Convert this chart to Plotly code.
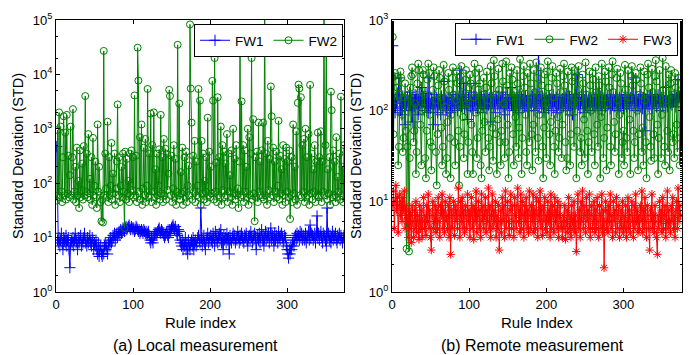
import plotly.graph_objects as go

# ---------------- data ----------------
local_fw1 = [
    470, 9, 8, 10, 7, 9, 12, 8, 6, 10, 9, 8, 11, 7, 9, 10, 6, 2.8, 8, 9,
    8, 10, 7, 9, 12, 8, 9, 6, 10, 8, 9, 11, 7, 9, 8, 10, 12, 8, 9, 7,
    10, 8, 9, 11, 8, 7, 10, 9, 6, 8, 7, 9, 6, 5, 8, 4.5, 6, 7, 5, 4.5,
    6, 5, 7, 8, 6, 7, 5, 8, 9, 7, 10, 8, 9, 11, 10, 12, 9, 11, 12, 10,
    12, 13, 11, 14, 12, 13, 15, 14, 13, 15, 16, 14, 15, 16, 17, 15, 14, 16, 15, 14,
    15, 13, 14, 16, 15, 14, 13, 14, 12, 13, 14, 13, 12, 14, 13, 12, 13, 11, 12, 13,
    11, 9, 8, 10, 9, 8, 10, 11, 12, 11, 12, 13, 14, 15, 13, 12, 14, 13, 12, 11,
    10, 11, 12, 13, 11, 10, 12, 14, 13, 15, 16, 17, 15, 14, 16, 13, 12, 11, 14, 13,
    9, 8, 7, 9, 6, 8, 7, 10, 6, 8, 5, 9, 7, 6, 8, 9, 7, 10, 6, 8,
    9, 7, 8, 10, 11, 9, 8, 35, 10, 7, 9, 11, 8, 6, 10, 9, 12, 8, 10, 9,
    11, 9, 8, 12, 10, 7, 13, 9, 11, 8, 10, 12, 9, 14, 8, 10, 6, 11, 9, 10,
    8, 12, 9, 10, 5, 11, 9, 8, 10, 12, 9, 11, 8, 10, 9, 13, 10, 8, 11, 9,
    12, 10, 9, 8, 11, 10, 12, 9, 7, 10, 11, 9, 13, 10, 8, 11, 9, 12, 10, 6,
    10, 11, 9, 12, 8, 10, 14, 9, 11, 7, 10, 13, 9, 11, 10, 12, 8, 10, 15, 9,
    11, 10, 7, 12, 9, 11, 10, 8, 13, 10, 9, 11, 12, 10, 8, 9, 11, 10, 7, 6,
    5, 4.2, 6, 5, 7, 6, 8, 9, 7, 10, 11, 9, 12, 10, 11, 9, 13, 10, 12, 9,
    11, 10, 9, 12, 8, 11, 10, 13, 9, 17, 10, 12, 11, 9, 10, 12, 8, 11, 25, 10,
    12, 9, 11, 13, 10, 8, 12, 10, 11, 9, 7, 35, 10, 12, 9, 11, 8, 10, 13, 9,
    11, 10, 12, 9, 8, 11, 10, 12, 9, 11, 10, 8, 10, 11,
]
local_fw2 = [
    48, 950, 60, 2000, 55, 1100, 70, 45, 300, 1700, 60, 850, 50, 1800, 65, 320, 55, 140, 1100, 60,
    300, 2300, 50, 70, 200, 45, 450, 60, 110, 35, 400, 55, 75, 230, 50, 480, 60, 4000, 70, 350,
    55, 800, 65, 120, 50, 300, 40, 680, 60, 90, 250, 55, 35, 1200, 70, 200, 60, 45, 20, 50,
    19, 27000, 60, 350, 80, 55, 1350, 45, 300, 60, 90, 550, 50, 150, 65, 350, 40, 80, 250, 2800,
    60, 300, 45, 90, 200, 55, 350, 70, 15, 380, 50, 280, 65, 110, 45, 350, 60, 400, 75, 300,
    55, 4100, 60, 320, 45, 31000, 7700, 70, 700, 50, 1200, 40, 80, 450, 60, 650, 45, 90, 5400, 55,
    350, 60, 1900, 45, 500, 70, 2000, 55, 180, 40, 350, 60, 90, 420, 50, 1800, 65, 300, 45, 650,
    60, 430, 50, 350, 75, 150, 5200, 4000, 60, 320, 45, 80, 500, 55, 280, 40, 70, 35000, 60, 2900,
    50, 160, 65, 450, 40, 70, 300, 55, 380, 45, 90, 210, 60, 83000, 5500, 1300, 50, 320, 70, 600,
    45, 250, 60, 90, 5400, 55, 3300, 40, 600, 65, 350, 50, 110, 70, 300, 45, 1600, 60, 380, 55,
    200, 65, 7600, 3300, 50, 20000, 70, 240, 45, 3800, 60, 300, 55, 1100, 40, 500, 75, 380, 55, 230,
    60, 800, 45, 350, 70, 140, 55, 400, 40, 1000, 65, 280, 50, 500, 60, 80, 35, 250, 27000, 55,
    3200, 60, 500, 45, 400, 70, 200, 55, 1000, 40, 700, 60, 350, 20000, 50, 1500, 65, 20, 300, 55,
    380, 45, 1300, 70, 250, 60, 400, 55, 1300, 50, 200000, 60, 350, 40, 600, 75, 280, 55, 6000, 1700,
    60, 450, 45, 250, 70, 380, 55, 90, 1400, 50, 320, 65, 180, 40, 500, 60, 280, 45, 450, 70,
    250, 55, 400, 22, 60, 300, 45, 1200, 65, 200, 50, 900, 40, 3000, 6500, 5500, 60, 3800, 55, 500,
    70, 650, 45, 1000, 55, 300, 60, 800, 40, 6400, 65, 350, 50, 180, 70, 500, 45, 250, 60, 850,
    55, 300, 60, 900, 45, 250, 70, 200000, 60, 500, 33000, 50, 180, 65, 300, 40, 4800, 2200, 55, 400,
    60, 250, 45, 700, 55, 130, 70, 350, 50, 3900, 60, 200, 45, 500,
]
remote_fw1 = [
    520, 110, 130, 95, 140, 120, 105, 150, 230, 125, 100, 135, 90, 145, 120, 110, 70, 130, 115, 140,
    125, 100, 160, 115, 130, 75, 140, 120, 110, 150, 105, 135, 125, 90, 145, 115, 130, 180, 110, 125,
    140, 100, 120, 155, 110, 130, 95, 230, 120, 105, 135, 115, 125, 70, 150, 120, 110, 140, 95, 130,
    115, 125, 90, 145, 130, 105, 120, 210, 110, 135, 100, 125, 115, 140, 120, 95, 130, 110, 150, 125,
    105, 140, 120, 130, 100, 135, 115, 280, 125, 110, 145, 120, 200, 105, 130, 150, 115, 80, 140, 125,
    130, 110, 160, 120, 100, 145, 125, 200, 115, 135, 105, 130, 120, 150, 95, 140, 115, 125, 110, 135,
    120, 145, 105, 130, 115, 140, 125, 75, 150, 120, 135, 110, 125, 95, 140, 130, 115, 145, 120, 105,
    135, 120, 160, 110, 130, 90, 140, 125, 115, 150, 120, 105, 135, 180, 115, 130, 100, 145, 125, 110,
    140, 120, 130, 95, 150, 115, 125, 140, 105, 135, 120, 110, 145, 130, 115, 145, 100, 125, 135, 120,
    110, 145, 125, 100, 135, 120, 150, 115, 130, 530, 105, 140, 125, 110, 145, 120, 95, 135, 125, 140,
    115, 130, 105, 145, 120, 135, 100, 125, 150, 110, 130, 120, 140, 95, 125, 115, 145, 130, 105, 120,
    135, 110, 140, 125, 100, 150, 120, 130, 115, 145, 105, 125, 140, 90, 135, 120, 110, 150, 125, 250,
    130, 115, 140, 105, 125, 150, 120, 135, 95, 130, 115, 145, 120, 110, 135, 125, 100, 140, 130, 115,
    125, 140, 110, 135, 120, 150, 105, 130, 125, 145, 115, 100, 135, 120, 140, 125, 110, 130, 145, 115,
    120, 135, 105, 150, 125, 115, 140, 130, 110, 145, 120, 135, 100, 125, 140, 115, 130, 150, 120, 105,
    135, 125, 145, 110, 130, 120, 150, 105, 140, 125, 115, 135, 230, 120, 130, 100, 145, 125, 110, 135,
    120, 150, 115, 130, 105, 140, 125, 60, 135, 120, 145, 110, 130, 125, 150, 115, 140, 105, 130, 120,
    145, 125, 110, 135, 150, 120, 130, 100, 140, 125, 115, 145, 130, 120, 180, 135, 110, 125, 145, 130,
    120, 140, 115, 135, 125, 150, 130, 110, 140, 125, 220, 135, 145, 130,
]
remote_fw2 = [
    650, 55, 240, 260, 210, 130, 180, 25, 40, 150, 270, 230, 90, 35, 50, 140, 200, 60, 3.0, 40,
    150, 2.8, 30, 180, 240, 300, 250, 45, 60, 120, 20, 35, 200, 330, 280, 160, 70, 25, 100, 280,
    250, 150, 30, 18, 60, 220, 330, 260, 90, 45, 22, 40, 170, 300, 240, 130, 35, 15, 55, 190,
    280, 230, 140, 65, 25, 40, 320, 210, 110, 20, 30, 75, 260, 170, 50, 18, 90, 230, 300, 150,
    45, 25, 130, 270, 200, 60, 15, 40, 240, 310, 160, 85, 30, 55, 220, 280, 120, 20, 45, 180,
    250, 200, 70, 35, 20, 140, 330, 260, 95, 30, 50, 170, 290, 200, 25, 18, 60, 150, 230, 75,
    35, 180, 270, 130, 50, 22, 40, 310, 200, 65, 28, 360, 240, 150, 55, 20, 80, 290, 170, 45,
    25, 60, 330, 210, 120, 30, 45, 350, 190, 70, 18, 35, 260, 140, 300, 220, 55, 25, 160, 85,
    40, 280, 200, 30, 65, 370, 150, 20, 50, 240, 310, 180, 90, 35, 25, 260, 130, 45, 330, 200,
    55, 22, 70, 280, 160, 35, 340, 230, 50, 28, 90, 150, 300, 190, 40, 18, 65, 250, 120, 30,
    270, 350, 180, 55, 25, 75, 230, 310, 140, 40, 20, 60, 260, 200, 85, 35, 50, 290, 160, 30,
    70, 240, 330, 190, 45, 22, 30, 270, 150, 95, 25, 55, 300, 210, 120, 40, 280, 230, 18, 60,
    170, 310, 140, 35, 50, 25, 250, 200, 80, 30, 340, 150, 60, 20, 45, 270, 190, 100, 35, 260,
    220, 55, 25, 300, 160, 70, 40, 240, 190, 18, 85, 330, 140, 30, 50, 270, 210, 22, 65, 120,
    300, 180, 40, 25, 250, 350, 160, 75, 35, 55, 230, 290, 130, 20, 90, 260, 200, 30, 45, 60,
    25, 320, 170, 50, 35, 280, 140, 80, 20, 240, 310, 190, 60, 30, 45, 260, 220, 100, 22, 55,
    150, 300, 200, 35, 65, 25, 270, 130, 45, 18, 250, 330, 180, 85, 40, 28, 290, 160, 55, 30,
    240, 360, 210, 70, 20, 50, 280, 140, 30, 90, 380, 170, 40, 25, 310, 130, 60, 35, 250, 22,
    200, 280, 150, 45, 55, 30, 260, 180, 70, 35, 230, 120, 25, 50,
]
remote_fw3 = [
    9, 13, 5, 10, 15, 8, 11, 4.5, 9, 12, 7, 10, 6, 11, 8, 13, 5, 9, 7, 6,
    4, 8, 5, 7, 3.5, 9, 6, 4, 8, 5, 10, 4.5, 7, 6, 3.8, 9, 5, 8, 4, 6,
    11, 5, 7, 4.2, 9, 6, 12, 5, 8, 4, 2.9, 7, 10, 5, 6, 9, 4.5, 8, 5, 11,
    6, 4, 9, 7, 12, 5, 8, 4.5, 10, 6, 7, 5, 9, 4, 11, 2.6, 8, 5, 7, 10,
    4.2, 9, 6, 8, 5, 14, 7, 4, 10, 6, 11, 5, 8, 4.5, 9, 7, 5, 12, 6, 8,
    4, 7, 11, 5, 9, 3.8, 8, 6, 13, 4.5, 7, 10, 5, 8, 4, 12, 6, 9, 5, 7,
    11, 4.5, 8, 6, 14, 5, 9, 4, 7, 12, 5, 8, 6, 10, 4, 7, 5, 9, 2.9, 6,
    8, 4.5, 11, 6, 9, 4, 13, 5, 7, 10, 6, 4.2, 8, 12, 5, 9, 6, 4, 11, 7,
    5, 9, 14, 6, 8, 4.5, 12, 5, 10, 7, 4, 9, 6, 11, 5, 8, 4.5, 13, 7, 5,
    9, 6, 12, 4.5, 8, 5, 11, 7, 4, 10, 6, 13, 5, 8, 4.2, 9, 6, 11, 5, 7,
    4.5, 10, 6, 8, 4, 12, 5, 9, 7, 4.5, 11, 6, 8, 5, 10, 4, 7, 9, 5, 6,
    4, 7, 5, 9, 3.8, 6, 8, 4.5, 11, 5, 7, 4, 9, 6, 5, 10, 4.5, 7, 2.8, 6,
    12, 5, 8, 4, 10, 6, 13, 5, 9, 7, 4.5, 11, 6, 8, 5, 12, 4, 7, 9, 5,
    6, 10, 4.5, 8, 5, 11, 6, 4, 9, 7, 5, 12, 4.5, 8, 1.85, 6, 10, 5, 8, 4.5,
    9, 6, 12, 5, 7, 4, 10, 6, 8, 4.5, 11, 5, 7, 9, 4, 6, 8, 5, 10, 4.5,
    7, 5, 9, 4, 6, 11, 5, 8, 4.5, 7, 10, 6, 4, 9, 5, 12, 6, 8, 4.5, 7,
    5, 9, 6, 13, 4.5, 8, 5, 11, 6, 4, 9, 7, 5, 2.9, 8, 6, 12, 5, 7, 4.5,
    9, 6, 4, 2.6, 7, 5, 10, 6, 8, 4.5, 11, 5, 7, 9, 4, 6, 13, 5, 8, 6,
    4.5, 9, 6, 11, 5, 7, 4, 8, 10, 5, 14, 6, 9, 7,
]
rule_index = list(range(1, len(local_fw1) + 1))

series_names_local = ["FW1", "FW2"]
series_names_remote = ["FW1", "FW2", "FW3"]
y_tick_vals_local = [1, 10, 100, 1000, 10000, 100000]
y_tick_text_local = ["10<sup>0</sup>", "10<sup>1</sup>", "10<sup>2</sup>",
                     "10<sup>3</sup>", "10<sup>4</sup>", "10<sup>5</sup>"]
y_tick_vals_remote = [1, 10, 100, 1000]
y_tick_text_remote = ["10<sup>0</sup>", "10<sup>1</sup>", "10<sup>2</sup>", "10<sup>3</sup>"]
x_tick_vals = [0, 100, 200, 300]

# ---------------- figure ----------------
W, H = 691, 355
BLUE, GREEN, RED = "#0000FF", "#008000", "#FF0000"
FONT = "Liberation Sans, Arial, sans-serif"

fig = go.Figure()

def add(x, y, name, color, symbol, size, xa, ya, legend):
    fig.add_trace(go.Scatter(
        x=x, y=y, name=name, mode="lines+markers", xaxis=xa, yaxis=ya, legend=legend,
        line=dict(color=color, width=1),
        marker=dict(symbol=symbol, size=size, color=color, line=dict(color=color, width=1)),
    ))

add(rule_index, local_fw1, series_names_local[0], BLUE, "cross-thin-open", 8, "x", "y", "legend")
add(rule_index, local_fw2, series_names_local[1], GREEN, "circle-open", 7, "x", "y", "legend")
add(rule_index, remote_fw1, series_names_remote[0], BLUE, "cross-thin-open", 8, "x2", "y2", "legend2")
add(rule_index, remote_fw2, series_names_remote[1], GREEN, "circle-open", 7, "x2", "y2", "legend2")
add(rule_index, remote_fw3, series_names_remote[2], RED, "asterisk-open", 7, "x2", "y2", "legend2")

x1d = [56 / W, 344 / W]
x2d = [392 / W, 682 / W]
yd = [1 - 292 / H, 1 - 20 / H]

axis_common = dict(showline=True, linecolor="black", linewidth=1, mirror="ticks",
                   ticks="inside", ticklen=4, tickcolor="black", showgrid=False,
                   zeroline=False, automargin=False,
                   tickfont=dict(family=FONT, size=13, color="black"))

fig.update_layout(
    width=W, height=H, margin=dict(l=0, r=0, t=0, b=0, autoexpand=False),
    paper_bgcolor="white", plot_bgcolor="white",
    font=dict(family=FONT, color="black"),
    xaxis=dict(domain=x1d, range=[0, 374], anchor="y", tickvals=x_tick_vals, **axis_common),
    yaxis=dict(domain=yd, type="log", range=[0, 5], anchor="x",
               tickvals=y_tick_vals_local, ticktext=y_tick_text_local,
               minor=dict(ticks="inside", ticklen=2, tickcolor="black"), **axis_common),
    xaxis2=dict(domain=x2d, range=[0, 376], anchor="y2", tickvals=x_tick_vals, **axis_common),
    yaxis2=dict(domain=yd, type="log", range=[0, 3], anchor="x2",
                tickvals=y_tick_vals_remote, ticktext=y_tick_text_remote,
                minor=dict(ticks="inside", ticklen=2, tickcolor="black"), **axis_common),
    legend=dict(orientation="h", x=343 / W, xanchor="right", y=1 - 24 / H, yanchor="top",
                bgcolor="white", bordercolor="black", borderwidth=1,
                font=dict(family=FONT, size=13.5), tracegroupgap=0, itemwidth=30),
    legend2=dict(orientation="h", x=678 / W, xanchor="right", y=1 - 23 / H, yanchor="top",
                 bgcolor="white", bordercolor="black", borderwidth=1,
                 font=dict(family=FONT, size=13.5), tracegroupgap=0, itemwidth=30),
    showlegend=True,
)

def text(x, y, s, size, angle=0):
    fig.add_annotation(x=x / W, y=1 - y / H, xref="paper", yref="paper", text=s,
                       showarrow=False, textangle=angle, xanchor="center", yanchor="middle",
                       font=dict(family=FONT, size=size, color="black"))

text(200, 322, "Rule index", 15)
text(537, 322, "Rule Index", 15)
text(195, 345, "(a) Local measurement", 16)
text(532, 345, "(b) Remote measurement", 16)
text(18, 156, "Standard Deviation (STD)", 14.5, -90)
text(356, 156, "Standard Deviation (STD)", 14.5, -90)

fig.write_html("out.html", config={"displayModeBar": False},
               post_script="document.body.style.margin='0';document.body.style.overflow='hidden';")
